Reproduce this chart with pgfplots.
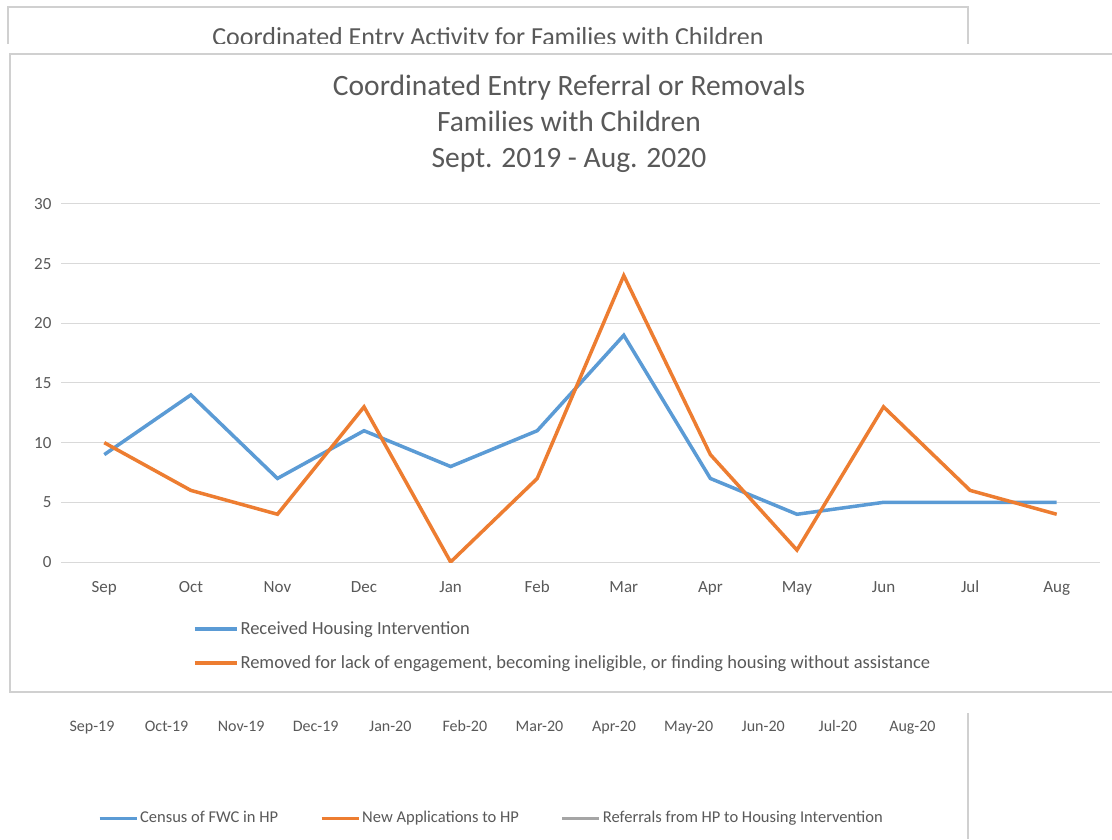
\documentclass[border=0pt]{standalone}
\usepackage{pgfplots}
\pgfplotsset{compat=1.18}
\usepackage{fontspec}
\setmainfont{Carlito}
\definecolor{cblue}{HTML}{5B9BD5}
\definecolor{corange}{HTML}{ED7D31}
\definecolor{cgray}{HTML}{A5A5A5}
\definecolor{gridgray}{HTML}{D9D9D9}
\definecolor{txtgray}{HTML}{595959}
\definecolor{framegray}{HTML}{D0D0D0}
\begin{document}
\begin{tikzpicture}[x=1pt,y=1pt]
\path[use as bounding box] (0pt,0pt) rectangle (1112pt,839pt);
\fill[white] (0pt,0pt) rectangle (1112pt,839pt);
% background chart (partly hidden)
\draw[framegray, line width=1.2pt] (8pt,795pt) -- (8pt,832pt) -- (968pt,832pt) -- (968pt,795pt);
\draw[framegray, line width=1.2pt] (968pt,0pt) -- (968pt,126pt);
\begin{scope}
\clip (0pt,795pt) rectangle (1112pt,839pt);
\node[font=\fontsize{26}{30}\selectfont, text=txtgray, anchor=base] at (488pt,793pt) {Coordinated Entry Activity for Families with Children};
\end{scope}
\begin{axis}[
  at={(54.7pt,117pt)}, anchor=south west, scale only axis,
  width=895pt, height=10pt,
  xmin=-0.5, xmax=11.5, ymin=0, ymax=1,
  xtick={0,...,11},
  xticklabels={Sep-19,Oct-19,Nov-19,Dec-19,Jan-20,Feb-20,Mar-20,Apr-20,May-20,Jun-20,Jul-20,Aug-20},
  ytick=\empty,
  axis line style={draw=none}, major tick length=0pt,
  tick label style={font=\fontsize{16}{19}\selectfont, text=txtgray},
  xticklabel style={text height=11pt, text depth=3pt, yshift=5pt},
  legend columns=3,
  legend style={at={(axis description cs:0.045,-9.6)}, anchor=west, draw=none, fill=none,
    font=\fontsize{16.5}{19}\selectfont, text=txtgray,
    /tikz/every even column/.append style={column sep=40pt}},
  legend image code/.code={\draw[#1, line width=3pt] (0pt,0pt) -- (37pt,0pt);},
]
\addlegendimage{cblue}
\addlegendentry{Census of FWC in HP}
\addlegendimage{corange}
\addlegendentry{New Applications to HP}
\addlegendimage{cgray}
\addlegendentry{Referrals from HP to Housing Intervention}
\end{axis}
% front chart
\fill[white] (0pt,137pt) rectangle (1112pt,790pt);
\draw[framegray, line width=1.2pt] (10pt,147pt) rectangle (1116pt,785pt);
\node[font=\fontsize{29.5}{36}\selectfont, text=txtgray, align=center] at (569pt,715.5pt)
  {Coordinated Entry Referral or Removals\\Families with Children\\Sept. 2019 - Aug. 2020};
\begin{axis}[
  at={(61pt,277pt)}, anchor=south west, scale only axis,
  width=1039pt, height=358pt,
  xmin=-0.5, xmax=11.5, ymin=0, ymax=30,
  xtick={0,...,11},
  xticklabels={Sep,Oct,Nov,Dec,Jan,Feb,Mar,Apr,May,Jun,Jul,Aug},
  ytick={0,5,...,30},
  /pgf/number format/assume math mode=true,
  axis line style={draw=none}, major tick length=0pt,
  ymajorgrids, grid style={color=gridgray, line width=1pt},
  tick label style={font=\fontsize{17}{20}\selectfont, text=txtgray},
  xticklabel style={text height=12pt, text depth=3.5pt, yshift=-15pt},
  yticklabel style={xshift=-6pt},
  legend style={at={(axis description cs:0.124,-0.155)}, anchor=north west, draw=none, fill=none,
    font=\fontsize{18.5}{21}\selectfont, text=txtgray, row sep=16pt, cells={anchor=west}},
  legend image code/.code={\draw[#1, line width=3.5pt] (0pt,0pt) -- (42pt,0pt);},
]
\addplot[cblue, line width=3.5pt] coordinates {(0,9) (1,14) (2,7) (3,11) (4,8) (5,11) (6,19) (7,7) (8,4) (9,5) (10,5) (11,5)};
\addlegendentry{Received Housing Intervention}
\addplot[corange, line width=3.5pt] coordinates {(0,10) (1,6) (2,4) (3,13) (4,0) (5,7) (6,24) (7,9) (8,1) (9,13) (10,6) (11,4)};
\addlegendentry{Removed for lack of engagement, becoming ineligible, or finding housing without assistance}
\end{axis}
\end{tikzpicture}
\end{document}
